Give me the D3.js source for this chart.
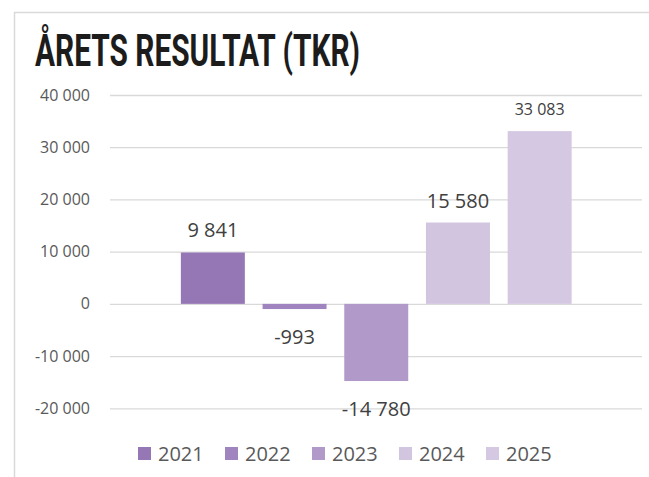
<!DOCTYPE html>
<html>
<head>
<meta charset="utf-8">
<script src="https://cdn.jsdelivr.net/npm/d3@7"></script>
<style>
  body { margin: 0; background: #fff; }
  svg { display: block; }
</style>
</head>
<body>
<div id="chart"></div>
<script>
var years = ["2021", "2022", "2023", "2024", "2025"];
var values = [9841, -993, -14780, 15580, 33083];
var colors = ["#9677B6", "#A084BF", "#B199CA", "#D2C5E0", "#D5C8E2"];
var yTicks = [-20000, -10000, 0, 10000, 20000, 30000, 40000];
var title = "ÅRETS RESULTAT (TKR)";

function init() {
    var w = 649;
    var h = 477;

    var fmt = function(v) {
        var s = d3.format(",")(Math.abs(v)).replace(/,/g, " ");
        return (v < 0 ? "-" : "") + s;
    };

    var svg = d3.select("#chart")
        .append("svg")
        .attr("width", w)
        .attr("height", h);

    // chart frame (only top/left visible in the crop)
    svg.append("rect")
        .attr("x", 14.5)
        .attr("y", 12.5)
        .attr("width", 700)
        .attr("height", 600)
        .attr("fill", "none")
        .attr("stroke", "#d9d9d9")
        .attr("stroke-width", 1.5);

    svg.append("text")
        .attr("x", 35)
        .attr("y", 66)
        .attr("font-family", "Liberation Sans Narrow, Roboto")
        .attr("font-weight", "bold")
        .attr("font-size", 45)
        .attr("fill", "#1c1c1c")
        .attr("textLength", 325)
        .attr("lengthAdjust", "spacingAndGlyphs")
        .text(title);

    var yScale = d3.scaleLinear()
        .domain([-20000, 40000])
        .range([408.3, 95]);

    var xScale = d3.scaleBand()
        .domain(years)
        .range([172, 580.5])
        .paddingInner(0.217)
        .paddingOuter(0.1085);

    // gridlines + y labels
    var yAxis = d3.axisLeft(yScale)
        .tickValues(yTicks)
        .tickSize(-(642 - 110))
        .tickPadding(20)
        .tickFormat(fmt);

    var gy = svg.append("g")
        .attr("transform", "translate(110,0)")
        .call(yAxis);
    gy.select(".domain").remove();
    gy.selectAll(".tick line")
        .attr("stroke", "#d9d9d9")
        .attr("stroke-width", 1.3);
    gy.selectAll(".tick text")
        .attr("font-family", "Open Sans")
        .attr("font-size", 16)
        .attr("fill", "#595959");

    // bars
    svg.selectAll(".bar")
        .data(years)
        .enter()
        .append("rect")
        .attr("class", "bar")
        .attr("x", function(d) { return xScale(d); })
        .attr("width", xScale.bandwidth())
        .attr("y", function(d, i) { return yScale(Math.max(0, values[i])); })
        .attr("height", function(d, i) { return Math.abs(yScale(values[i]) - yScale(0)); })
        .attr("fill", function(d, i) { return colors[i]; });

    // value labels
    svg.selectAll(".lbl")
        .data(years)
        .enter()
        .append("text")
        .attr("class", "lbl")
        .attr("x", function(d) { return xScale(d) + xScale.bandwidth() / 2; })
        .attr("y", function(d, i) {
            return values[i] >= 0 ? yScale(values[i]) - (i === 4 ? 16 : 15)
                                  : yScale(values[i]) + 35;
        })
        .attr("text-anchor", "middle")
        .attr("font-family", "Open Sans")
        .attr("font-size", function(d, i) { return i === 4 ? 16 : 20; })
        .attr("fill", "#404040")
        .text(function(d, i) { return fmt(values[i]); });

    // legend
    var legendX = d3.scalePoint()
        .domain(years)
        .range([138, 486]);

    var leg = svg.selectAll(".leg")
        .data(years)
        .enter()
        .append("g")
        .attr("class", "leg")
        .attr("transform", function(d) { return "translate(" + legendX(d) + ",447)"; });

    leg.append("rect")
        .attr("width", 13)
        .attr("height", 13)
        .attr("fill", function(d, i) { return colors[i]; });

    leg.append("text")
        .attr("x", 20)
        .attr("y", 13.5)
        .attr("font-family", "Open Sans")
        .attr("font-size", 20)
        .attr("fill", "#595959")
        .text(function(d) { return d; });
}

init();
</script>
</body>
</html>
